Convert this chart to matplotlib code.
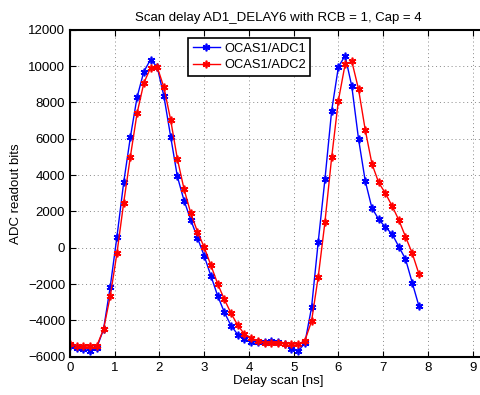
import numpy as np
import matplotlib.pyplot as plt

# delay scan steps (0.15 ns grid, 0 .. 7.8 ns)
delay = np.round(np.arange(53) * 0.15, 2)

adc1 = [-5390, -5500, -5590, -5680, -5500, -4490, -2140, 610, 3590, 6090,
        8290, 9690, 10350, 9950, 8330, 6120, 3920, 2590, 1530, 540,
        -450, -1550, -2640, -3550, -4290, -4780, -5040, -5170, -5200, -5190,
        -5120, -5190, -5300, -5560, -5690, -5260, -3290, 340, 3780, 7550,
        9950, 10570, 8880, 5990, 3680, 2180, 1570, 1130, 760, 60,
        -620, -1920, -3210]

adc2 = [-5310, -5410, -5420, -5420, -5400, -4490, -2660, -300, 2470, 5020,
        7410, 9060, 9900, 9950, 8820, 7040, 4890, 3220, 1900, 880,
        20, -970, -1980, -2840, -3610, -4270, -4760, -4970, -5130, -5240,
        -5260, -5260, -5290, -5290, -5320, -5120, -4050, -1590, 1420, 4980,
        8100, 10090, 10260, 8730, 6490, 4620, 3590, 3000, 2300, 1530,
        610, -300, -1440]

labels = ["OCAS1/ADC1", "OCAS1/ADC2"]
title = "Scan delay AD1_DELAY6 with RCB = 1, Cap = 4"

plt.rcParams["font.family"] = ["Liberation Sans", "DejaVu Sans"]
plt.rcParams["font.size"] = 9.5

W, H = 481, 395
fig = plt.figure(figsize=(W / 100, H / 100), dpi=100)
ax = fig.add_axes([70 / W, 1 - 356.7 / H, (486 - 70) / W, (356.7 - 29.7) / H])

asterisk = (6, 2, 0)
ax.plot(delay, adc1, color="b", lw=1, marker=asterisk, ms=5.5, mew=1.2, label=labels[0])
ax.plot(delay, adc2, color="r", lw=1, marker=asterisk, ms=5.5, mew=1.2, label=labels[1])

ax.set_xlim(0, 9.3)
ax.set_ylim(-6000, 12000)
ax.set_xticks(range(0, 10))
ax.set_yticks(range(-6000, 12001, 2000))
ax.tick_params(direction="in", top=True, right=True, length=4, width=0.8, labelsize=9.5)
ax.grid(True, linestyle=(0, (1, 3)), color="#888888", linewidth=0.7)
for s in ax.spines.values():
    s.set_linewidth(1.5)

ax.set_title(title, fontsize=9.5, pad=6)
ax.set_xlabel("Delay scan [ns]", labelpad=1)
ax.set_ylabel("ADC readout bits", labelpad=4)

leg = ax.legend(loc="upper left", bbox_to_anchor=(188 / W, 1 - 38 / H),
                bbox_transform=fig.transFigure, borderaxespad=0,
                fancybox=False, framealpha=1, edgecolor="black",
                handlelength=2.1, handletextpad=0.35, borderpad=0.35,
                labelspacing=0.35, fontsize=9.3)
leg.get_frame().set_linewidth(1.2)

fig.savefig("out.png", dpi=100)
